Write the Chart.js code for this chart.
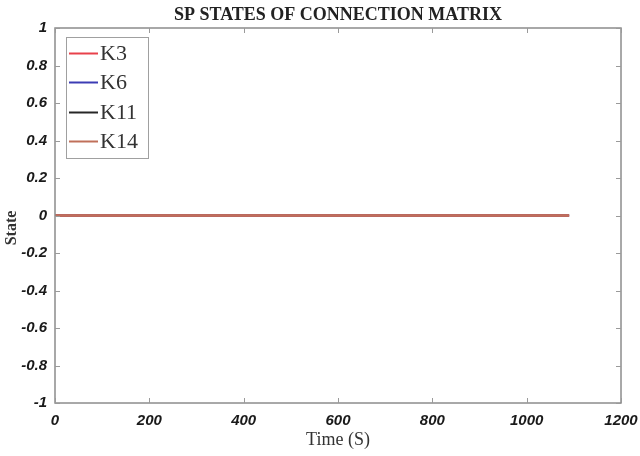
<!DOCTYPE html>
<html>
<head>
<meta charset="utf-8">
<script src="https://cdn.jsdelivr.net/npm/chart.js@4"></script>
<style>
  html, body { margin: 0; padding: 0; background: #fff; }
  #wrap { width: 640px; height: 456px; }
</style>
</head>
<body>
<div id="wrap"><canvas id="c" width="640" height="456"></canvas></div>
<script>
// Sample times (s) and switch states for each connection
const timeS = [0, 1090];
const k3  = [0, 0];
const k6  = [0, 0];
const k11 = [0, 0];
const k14 = [0, 0];
const seriesNames = ['K3', 'K6', 'K11', 'K14'];
const seriesColors = ['#e8414b', '#3c3cb4', '#262626', '#c0705a'];
const xTicks = [0, 200, 400, 600, 800, 1000, 1200];
const yTicks = [1, 0.8, 0.6, 0.4, 0.2, 0, -0.2, -0.4, -0.6, -0.8, -1];

const tickFont = { family: 'Liberation Sans, Arial, sans-serif', size: 15, weight: 'bold', style: 'italic' };
const serif = '"Liberation Serif", "Times New Roman", serif';

const toPoints = ys => timeS.map((t, i) => ({ x: t, y: ys[i] }));
const allSeries = [k3, k6, k11, k14];

// Box, inward ticks, titles and legend in the MATLAB figure style
const figureDecor = {
  id: 'figureDecor',
  afterDatasetsDraw(chart) {
    const { ctx, chartArea: a, scales: { x, y } } = chart;
    ctx.save();
    ctx.strokeStyle = '#8c8c8c';
    ctx.lineWidth = 1.5;
    ctx.strokeRect(a.left, a.top, a.right - a.left, a.bottom - a.top);
    ctx.lineWidth = 1;
    ctx.strokeStyle = '#9a9a9a';
    const len = 5;
    xTicks.forEach(v => {
      const px = Math.round(x.getPixelForValue(v)) + 0.5;
      ctx.beginPath();
      ctx.moveTo(px, a.bottom); ctx.lineTo(px, a.bottom - len);
      ctx.moveTo(px, a.top); ctx.lineTo(px, a.top + len);
      ctx.stroke();
    });
    yTicks.forEach(v => {
      const py = Math.round(y.getPixelForValue(v)) + 0.5;
      ctx.beginPath();
      ctx.moveTo(a.left, py); ctx.lineTo(a.left + len, py);
      ctx.moveTo(a.right, py); ctx.lineTo(a.right - len, py);
      ctx.stroke();
    });

    // chart title
    ctx.fillStyle = '#222';
    ctx.font = 'bold 18px ' + serif;
    ctx.textAlign = 'center';
    ctx.textBaseline = 'middle';
    ctx.fillText('SP STATES OF CONNECTION MATRIX', (a.left + a.right) / 2, 15);

    // axis titles
    ctx.fillStyle = '#333';
    ctx.font = '18px ' + serif;
    ctx.fillText('Time (S)', (a.left + a.right) / 2, 440);
    ctx.save();
    ctx.translate(12, 228);
    ctx.rotate(-Math.PI / 2);
    ctx.font = 'bold 16px ' + serif;
    ctx.fillText('State', 0, 0);
    ctx.restore();

    // legend
    const lx = a.left + 11, ly = a.top + 9, lw = 82, lh = 121;
    ctx.fillStyle = '#fff';
    ctx.fillRect(lx, ly, lw, lh);
    ctx.strokeStyle = '#a0a0a0';
    ctx.lineWidth = 1;
    ctx.strokeRect(lx + 0.5, ly + 0.5, lw, lh);
    ctx.font = '22px ' + serif;
    ctx.textAlign = 'left';
    chart.data.datasets.forEach((ds, i) => {
      const cy = Math.round(ly + 16 + i * 29.3) + 0.5;
      ctx.strokeStyle = ds.borderColor;
      ctx.lineWidth = 2;
      ctx.beginPath();
      ctx.moveTo(lx + 3, cy); ctx.lineTo(lx + 32, cy);
      ctx.stroke();
      ctx.fillStyle = '#333';
      ctx.fillText(ds.label, lx + 34, cy + 1);
    });
    ctx.restore();
  }
};

new Chart(document.getElementById('c'), {
  type: 'line',
  data: {
    datasets: seriesNames.map((name, i) => ({
      label: name,
      data: toPoints(allSeries[i]),
      borderColor: seriesColors[i],
      backgroundColor: seriesColors[i],
      borderWidth: name === 'K14' ? 2.5 : 2,
      pointRadius: 0,
      fill: false,
      order: name === 'K14' ? 0 : 1
    }))
  },
  options: {
    responsive: false,
    animation: false,
    events: [],
    layout: { padding: { left: 0, right: 19, top: 28, bottom: 0 } },
    plugins: { legend: { display: false }, title: { display: false }, tooltip: { enabled: false } },
    scales: {
      x: {
        type: 'linear',
        min: 0, max: 1200,
        afterBuildTicks: s => { s.ticks = xTicks.map(v => ({ value: v })); },
        afterFit: s => { s.height = 53; s.paddingLeft = 0; s.paddingRight = 0; },
        grid: { display: false, drawTicks: false },
        border: { display: false },
        ticks: { font: tickFont, color: '#1a1a1a', padding: 9, maxRotation: 0, autoSkip: false,
          callback: v => String(v) }
      },
      y: {
        type: 'linear',
        min: -1, max: 1,
        afterBuildTicks: s => { s.ticks = yTicks.map(v => ({ value: v })); },
        afterFit: s => { s.width = 55; s.paddingTop = 0; s.paddingBottom = 0; },
        grid: { display: false, drawTicks: false },
        border: { display: false },
        ticks: { font: tickFont, color: '#1a1a1a', padding: 8, autoSkip: false,
          callback: v => String(Math.round(v * 10) / 10) }
      }
    }
  },
  plugins: [figureDecor]
});
</script>
</body>
</html>
